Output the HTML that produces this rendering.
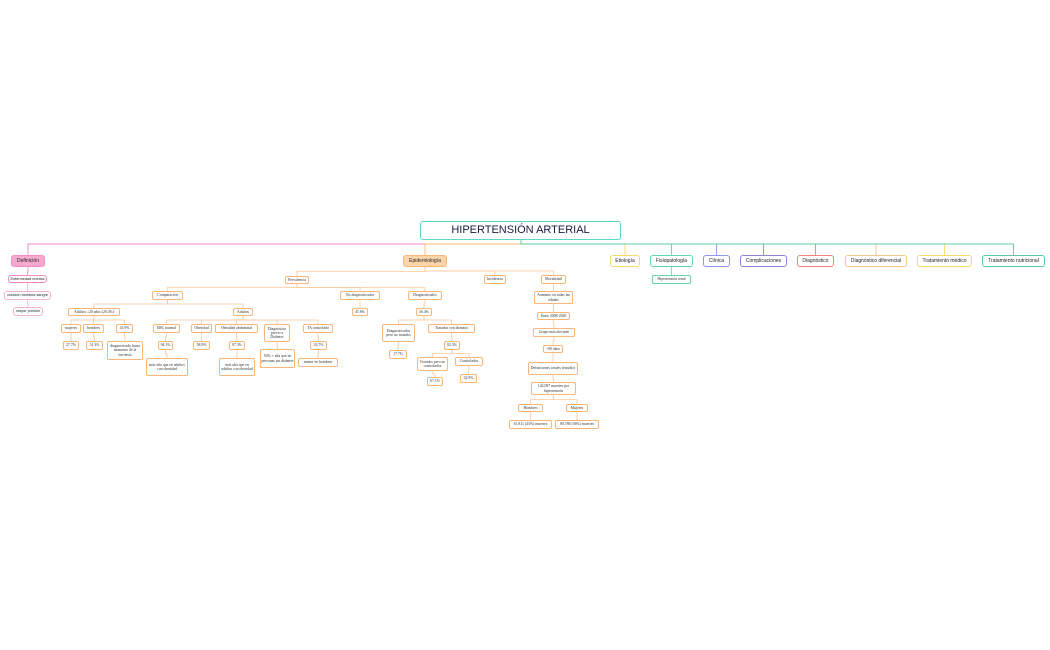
<!DOCTYPE html>
<html><head><meta charset="utf-8"><style>
body{margin:0;width:1050px;height:650px;background:#fff;position:relative;overflow:hidden;font-family:"Liberation Sans",sans-serif}
.n{position:absolute;box-sizing:border-box;border:1px solid #f8b777;border-radius:2px;background:#fff;display:flex;align-items:center;justify-content:center;text-align:center;color:#333;font-family:"Liberation Serif",serif;font-size:3.8px;line-height:4.2px;white-space:normal}
.m{font-family:"Liberation Sans",sans-serif;font-size:5px;border-radius:3px;color:#222}
.s{font-family:"Liberation Sans",sans-serif;font-size:3.8px;border-radius:3px;color:#222;white-space:nowrap}
.r{font-size:11px;color:#1a1a40;border-radius:3px}
svg{position:absolute;left:0;top:0}
</style></head><body>
<svg id="s" width="1050" height="650"></svg>
<div id="c"></div>
<script>
var O='#f8b777',N=[
['root',420,221,621,240,'HIPERTENSIÓN ARTERIAL','#5ed8c6','m r',''],
['def',11,255,45,267,'Definición','#f08cc0','m','#f7a8cf'],
['epi',403,255,447,267,'Epidemiología',O,'m','#fbd5a8'],
['eti',610,255,640,267,'Etiología','#f3dc6a','m',''],
['fis',650,255,693,267,'Fisiopatología','#5ed8b0','m',''],
['cli',703,255,730,267,'Clínica','#8d96e8','m',''],
['com',740,255,787,267,'Complicaciones','#8a86d6','m',''],
['dia',797,255,834,267,'Diagnóstico','#f08080','m',''],
['dd',845,255,907,267,'Diagnóstico diferencial','#f8c58a','m',''],
['tm',917,255,972,267,'Tratamiento médico','#f3dc6a','m',''],
['tn',982,255,1045,267,'Tratamiento nutricional','#5ec8a0','m',''],
['hr',652,275,691,284,'Hipertensión renal','#5ed8b0','',''],
['d1',8,275,47,283,'Enfermedad crónica','#f08cc0','s',''],
['d2',4,291,51,300,'corazón bombea sangre','#f4b0d2','s',''],
['d3',13,307,43,316,'mayor presión','#f4b0d2','s',''],
['prev',285,276,309,284,'Prevalencia',O,'',''],
['inc',484,275,506,284,'Incidencia',O,'',''],
['mor',541,275,566,284,'Mortalidad',O,'',''],
['comp',152,291,183,300,'Comparación',O,'',''],
['nod',340,291,380,300,'No diagnosticados',O,'',''],
['dg',408,291,442,300,'Diagnosticados',O,'',''],
['a20',68,308,120,316,'Adultos ≥20 años (29.4%)',O,'',''],
['ad',233,308,253,316,'Adultos',O,'',''],
['muj',61,324,81,333,'mujeres',O,'',''],
['hom',83,324,104,333,'hombres',O,'',''],
['p439',116,324,133,333,'43.9%',O,'',''],
['p277',63,341,79,350,'27.7%',O,'',''],
['p313',86,341,103,350,'31.3%',O,'',''],
['dhm',107,341,143,360,'diagnosticado hasta momento de la encuesta',O,'',''],
['imc',153,324,180,333,'IMC normal',O,'',''],
['obe',191,324,212,333,'Obesidad',O,'',''],
['oba',215,324,258,333,'Obesidad abdominal',O,'',''],
['dpd',264,324,290,342,'Diagnóstico previo a Diabetes',O,'',''],
['tac',303,324,333,333,'TA controlada',O,'',''],
['p941',158,341,173,350,'94.1%',O,'',''],
['p588',193,341,210,350,'58.8%',O,'',''],
['p973',229,341,245,350,'97.3%',O,'',''],
['p50',260,349,295,368,'50% + alta que en personas sin diabetes',O,'',''],
['p337',310,341,327,350,'33.7%',O,'',''],
['ma1',146,358,188,376,'más alto que en adultos con obesidad',O,'',''],
['ma2',219,358,255,376,'más alta que en adultos con obesidad',O,'',''],
['meh',298,358,338,367,'menor en hombres',O,'',''],
['p456',352,308,368,316,'45.6%',O,'',''],
['p564',416,308,432,316,'56.4%',O,'',''],
['dnt',382,324,415,342,'Diagnosticados pero no tratados',O,'',''],
['tcf',428,324,475,333,'Tratados con fármaco',O,'',''],
['p177',389,350,407,359,'17.7%',O,'',''],
['p823',444,341,460,350,'82.3%',O,'',''],
['tpn',417,357,448,371,'Tratados pero no controlados',O,'',''],
['ctr',455,357,483,366,'Controlados',O,'',''],
['p671',427,377,443,386,'67.1%',O,'',''],
['p329',460,374,477,383,'32.9%',O,'',''],
['aum',534,291,573,304,'Aumento en todas las edades',O,'',''],
['ent',537,312,570,320,'Entre 2008-2020',O,'',''],
['gru',533,328,575,337,'Grupo más afectado',O,'',''],
['g90',543,345,563,353,'&gt;90 años',O,'',''],
['def2',528,362,578,375,'Defunciones totales (estudio)',O,'',''],
['m142',531,382,576,395,'142,097 muertes por hipertensión',O,'',''],
['mh',518,404,543,412,'Hombres',O,'',''],
['mm',566,404,588,412,'Mujeres',O,'',''],
['m61',509,420,552,429,'61,811 (43%) muertes',O,'',''],
['m80',555,420,599,429,'80,786 (56%) muertes',O,'','']
];
var E=[['def','d1'],['d1','d2'],['d2','d3'],['fis','hr'],['epi','prev'],['epi','inc'],['epi','mor'],
['prev','comp'],['prev','nod'],['prev','dg'],['comp','a20'],['comp','ad'],['a20','muj'],['a20','hom'],['a20','p439'],
['muj','p277'],['hom','p313'],['p439','dhm'],['ad','imc'],['ad','obe'],['ad','oba'],['ad','dpd'],['ad','tac'],
['imc','p941'],['obe','p588'],['oba','p973'],['dpd','p50'],['tac','p337'],['p941','ma1'],['p973','ma2'],['p337','meh'],
['nod','p456'],['dg','p564'],['p564','dnt'],['p564','tcf'],['dnt','p177'],['tcf','p823'],['p823','tpn'],['p823','ctr'],
['tpn','p671'],['ctr','p329'],['mor','aum'],['aum','ent'],['ent','gru'],['gru','g90'],['g90','def2'],['def2','m142'],
['m142','mh'],['m142','mm'],['mh','m61'],['mm','m80']];
var M={},h='',s='';
N.forEach(function(n){M[n[0]]=n;h+='<div class="n '+n[7]+'" style="left:'+n[1]+'px;top:'+n[2]+'px;width:'+(n[3]-n[1])+'px;height:'+(n[4]-n[2])+'px;border-color:'+n[6]+';'+(n[8]?'background:'+n[8]:'')+'">'+n[5]+'</div>';});
document.getElementById('c').innerHTML=h;
E.forEach(function(e){var p=M[e[0]],c=M[e[1]];var px=(p[1]+p[3])/2,cx=(c[1]+c[3])/2,my=(p[4]+c[2])/2;
var col=c[6]==O?'#fbc99a':c[6];
s+='<path d="M'+px+' '+p[4]+'V'+my+'H'+cx+'V'+c[2]+'" fill="none" stroke="'+col+'" stroke-width="0.8"/>';});
var rx=521;
['def','epi','eti','fis','cli','com','dia','dd','tm','tn'].forEach(function(k){var c=M[k],cx=(c[1]+c[3])/2;
s+='<path d="M'+rx+' 240V244H'+cx+'V255" fill="none" stroke="'+c[6]+'" stroke-width="0.9"/>';});
document.getElementById('s').innerHTML=s;
</script>
</body></html>
